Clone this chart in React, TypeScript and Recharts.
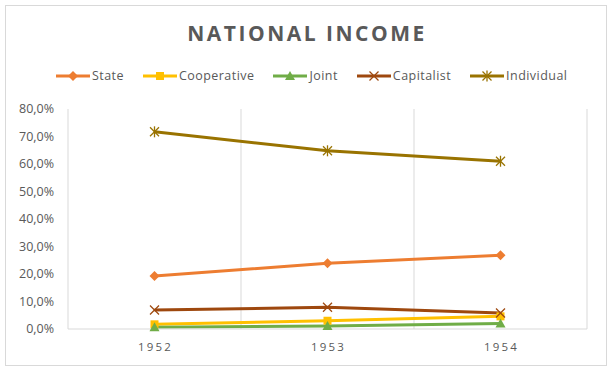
import React from 'react';
import { LineChart, Line, XAxis, YAxis, ReferenceLine } from 'recharts';

const categories = ['1952', '1953', '1954'];
const stateValues = [0.193, 0.239, 0.268];
const cooperativeValues = [0.017, 0.03, 0.046];
const jointValues = [0.006, 0.011, 0.02];
const capitalistValues = [0.069, 0.079, 0.058];
const individualValues = [0.717, 0.648, 0.61];
const yTicks = [0, 0.1, 0.2, 0.3, 0.4, 0.5, 0.6, 0.7, 0.8];
const categoryCenters = [0.5, 1.5, 2.5];
const categoryBounds = [0, 1, 2, 3];

type Shape = 'diamond' | 'square' | 'triangle' | 'x' | 'star';

const series: { key: string; name: string; color: string; shape: Shape; values: number[] }[] = [
  { key: 'state', name: 'State', color: '#ED7D31', shape: 'diamond', values: stateValues },
  { key: 'cooperative', name: 'Cooperative', color: '#FFC000', shape: 'square', values: cooperativeValues },
  { key: 'joint', name: 'Joint', color: '#70AD47', shape: 'triangle', values: jointValues },
  { key: 'capitalist', name: 'Capitalist', color: '#9E480E', shape: 'x', values: capitalistValues },
  { key: 'individual', name: 'Individual', color: '#997300', shape: 'star', values: individualValues },
];

const data = categories.map((c, i) => {
  const row: Record<string, number | string> = { pos: categoryCenters[i], year: c };
  series.forEach((s) => {
    row[s.key] = s.values[i];
  });
  return row;
});

const FONT = '"Open Sans", sans-serif';
const TEXT = '#595959';
const GRID = '#D9D9D9';

function Marker({ shape, color, cx, cy }: { shape: Shape; color: string; cx: number; cy: number }) {
  switch (shape) {
    case 'diamond':
      return <polygon points={`${cx},${cy - 5} ${cx + 5},${cy} ${cx},${cy + 5} ${cx - 5},${cy}`} fill={color} />;
    case 'square':
      return <rect x={cx - 4} y={cy - 4} width={8} height={8} fill={color} />;
    case 'triangle':
      return <polygon points={`${cx},${cy - 5} ${cx + 5},${cy + 4} ${cx - 5},${cy + 4}`} fill={color} />;
    case 'x':
      return (
        <g stroke={color} strokeWidth={1.3}>
          <line x1={cx - 4.5} y1={cy - 4.5} x2={cx + 4.5} y2={cy + 4.5} />
          <line x1={cx - 4.5} y1={cy + 4.5} x2={cx + 4.5} y2={cy - 4.5} />
        </g>
      );
    case 'star':
    default:
      return (
        <g stroke={color} strokeWidth={1.3}>
          <line x1={cx - 4.5} y1={cy - 4.5} x2={cx + 4.5} y2={cy + 4.5} />
          <line x1={cx - 4.5} y1={cy + 4.5} x2={cx + 4.5} y2={cy - 4.5} />
          <line x1={cx} y1={cy - 5.5} x2={cx} y2={cy + 5.5} />
        </g>
      );
  }
}

function makeDot(shape: Shape, color: string) {
  return (props: any) => {
    const { cx, cy, index } = props;
    if (cx == null || cy == null) return <g key={`d-${index}`} />;
    return (
      <g key={`d-${shape}-${index}`}>
        <Marker shape={shape} color={color} cx={cx} cy={cy} />
      </g>
    );
  };
}

const pct = (v: number) => `${(v * 100).toFixed(1).replace('.', ',')}%`;

export default function App() {
  return (
    <div style={{ position: 'absolute', left: 0, top: 0, width: 613, height: 371, background: '#fff', fontFamily: FONT }}>
      <div
        style={{
          position: 'absolute',
          left: 5,
          top: 5,
          width: 600,
          height: 359,
          border: `1px solid ${GRID}`,
        }}
      />
      <div
        style={{
          position: 'absolute',
          left: 0,
          width: 613,
          top: 20,
          height: 27,
          lineHeight: '27px',
          textAlign: 'center',
          fontSize: 21,
          fontWeight: 700,
          letterSpacing: 2.5,
          color: TEXT,
          paddingLeft: 1,
          boxSizing: 'border-box',
        }}
      >
        NATIONAL INCOME
      </div>
      <div
        style={{
          position: 'absolute',
          left: 56,
          top: 68,
          height: 16,
          display: 'flex',
          alignItems: 'center',
          gap: 19,
          whiteSpace: 'nowrap',
        }}
      >
        {series.map((s) => (
          <div key={s.key} style={{ display: 'flex', alignItems: 'center', height: 16 }}>
            <svg width={34} height={14} style={{ display: 'block', marginRight: 2 }}>
              <line x1={0} y1={7} x2={34} y2={7} stroke={s.color} strokeWidth={3} />
              <Marker shape={s.shape} color={s.color} cx={17} cy={7} />
            </svg>
            <span style={{ fontSize: 12.5, letterSpacing: 0.45, color: TEXT, lineHeight: '16px' }}>{s.name}</span>
          </div>
        ))}
      </div>
      <div style={{ position: 'absolute', left: 0, top: 0 }}>
        <LineChart width={613} height={371} data={data} margin={{ top: 109, right: 26, bottom: 12, left: 8 }}>
          {categoryBounds.map((b) => (
            <ReferenceLine key={`b-${b}`} x={b} stroke={GRID} strokeWidth={1} />
          ))}
          <XAxis
            dataKey="pos"
            type="number"
            domain={[0, 3]}
            ticks={categoryCenters}
            tickFormatter={(v: number) => categories[Math.floor(v)]}
            axisLine={{ stroke: GRID }}
            tickLine={false}
            tickMargin={8}
            height={30}
            interval={0}
            tick={{ fill: TEXT, fontSize: 11.5, fontFamily: FONT, letterSpacing: 2.2, dx: 1 }}
          />
          <YAxis
            domain={[0, 0.8]}
            ticks={yTicks}
            tickFormatter={pct}
            axisLine={false}
            tickLine={false}
            tickMargin={8}
            width={60}
            interval={0}
            tick={{ fill: TEXT, fontSize: 12.5, fontFamily: FONT }}
          />
          {series.map((s) => (
            <Line
              key={s.key}
              dataKey={s.key}
              name={s.name}
              stroke={s.color}
              strokeWidth={3}
              dot={makeDot(s.shape, s.color)}
              activeDot={false}
              isAnimationActive={false}
            />
          ))}
        </LineChart>
      </div>
    </div>
  );
}
